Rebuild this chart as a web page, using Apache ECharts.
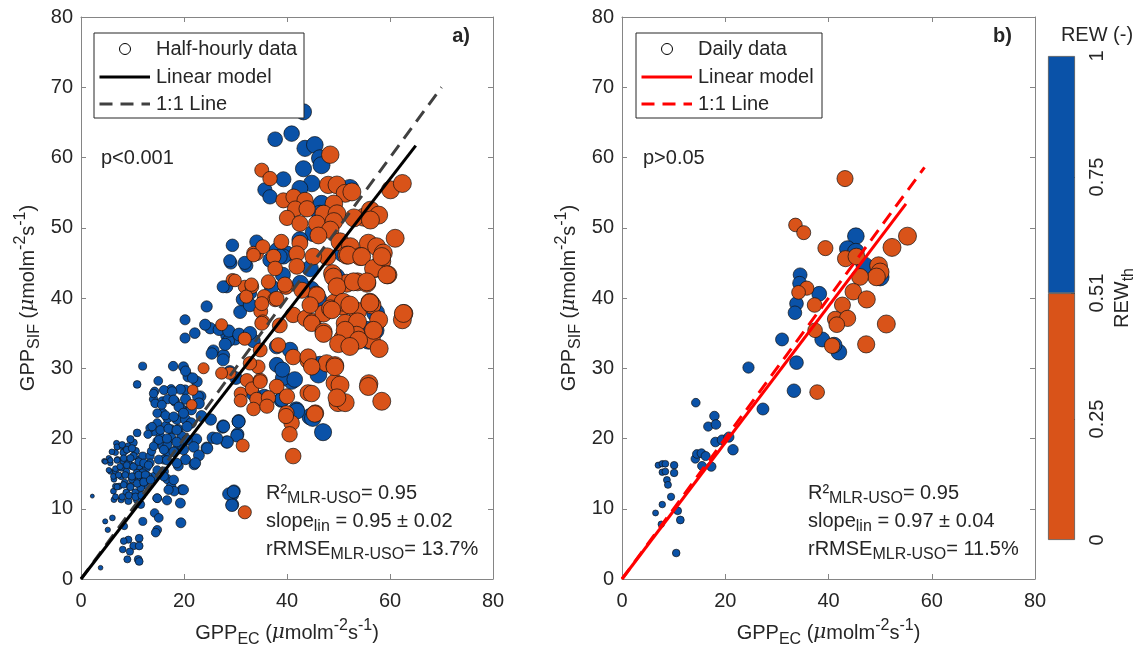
<!DOCTYPE html>
<html>
<head>
<meta charset="utf-8">
<script src="https://cdn.jsdelivr.net/npm/echarts@6/dist/echarts.min.js"></script>
<style>html,body{margin:0;padding:0;background:#fff}#c{width:1142px;height:651px}</style>
</head>
<body>
<div id="c"></div>
<script>
// ---------------- DATA ----------------
// Panel a) half-hourly data, REW >= 0.51 (blue)
const blueA = [
[43.2,66.5],[37.7,62.6],[40.9,63.4],[43.5,61.3],[45.4,61.8],[46.4,59.9],[46.7,58.9],[43.2,58.4],[39.3,56.9],[44.8,56.3],[35.7,55.4],[36.7,54.4],[42.5,55.6],[46.7,53.4],[52.2,55.6],[46.4,52],[45.1,49.2],[34.1,48],[38,46.8],[40,46.3],[36.7,45.4],[39.3,45.9],[42.5,48.3],
[29.4,47.5],[29.1,45],[32.1,44.6],[28.3,41.6],[44.7,41.2],[46.1,39.8],[57.2,37.9],[32.8,40.7],[37,41.6],[42.6,42.1],[31.4,39.8],[49.5,43],[50.9,46.4],
[28.9,45.3],[31.8,45],[38.6,45.9],[39.2,43.3],[27.6,41.6],[30.9,38],[32.8,39],[24.4,38.8],[20.2,36.9],[22.1,35],[20.2,34.3],[25.1,35.7],[28.3,34.7],[29.9,34.2],[33.5,33.9],[25.7,32.5],[27.7,31.8],[28.6,33.9],[38,30.5],[40.9,28.1],[38.9,25.5],[38,33.1],[39.2,28.6],[41.8,24.1],[30.6,22.4],[19.9,30.2],[20.8,28.8],[22.5,28.1],[20.2,26.9],[23.2,26],[27.5,21.6],[55.8,34],[57.1,35.4],[40.6,32.6],
[47,20.9],[44.5,23.1],[46.4,30.5],[44.5,44.2],[55.5,35.4],
[24.1,36.2],[26.8,35.5],[28.7,35.3],[30.7,34.8],[32.8,35],[28,33.4],[25.4,32.1],[27.6,31.2],[28.9,29.5],[30.1,28.6],[11.97,30.3],[10.9,27.7],[15,28.2],[17.9,30.3],[20.3,29.6],[21.7,28.6],[22.7,26],[19.3,27],[17.5,27],[14.3,26.7],[14.1,25.6],[15.8,25.3],[16.8,25.6],[18.2,25.3],[20.3,25.6],[23.4,23.2],[25.2,22.7],[27.6,21.8],[30.6,22.5],[30.4,20.6],[28.3,19.5],[25.6,20.1],[24.4,18.7],[22.4,19.9],[39.1,25.6],[41.9,23.9],[45,22.9],[35.6,26],[33.5,26.3],[39.1,29.8],[41.5,28.4],[46.1,29.1],[29.4,12],[29.7,12.5],[29.4,10.6],[18.9,16.1],[20.3,17],[22,16.3],[19.6,12.7],[19.3,10.8],[19.4,8],[16.1,15.3],[16.8,14.2],[17.5,13.2],[18.1,12.5],[14.8,11.5],[14.3,9.4],[15.1,8.7],[14.8,7],[14.5,6.6],[11.6,10.6],[12,8.2],[11.3,5.8],[9.2,5.6],[10.2,4.7],[11.3,4.7],[9.5,3.9],[9,2.8],[11.1,2.8],[11.3,2.5],[8.3,5.4],[8.1,4.2],[8.4,7.5],[6.1,8.7],[4.7,8.2],[5.2,7],[2.2,11.8],[3.8,1.6],[6.3,12.5],[6.7,13.2],
[4.5,16.8],[5.4,17.2],[6.7,18],[6.9,19.3],[7.8,18.9],[8.5,18.2],[9.2,18.9],[10.2,19.4],[10.6,18.2],[11.3,17],[12,17.5],[12.7,15.8],[13.4,17.5],[13.7,18.2],[14.8,19.6],[15.8,18.9],[16.8,18],[16.1,17],[14.2,14.6],[13,13.2],[10.9,15.1],[9.9,16.1],[8.8,15.3],[7.8,14.6],[6.4,14.2],[5.7,15.3],[7.4,13.2],[8.8,12.3],[9.5,13.2],[10.6,12.3],[11.6,13],[7.8,11.3],[9.2,11.1],[10.9,11.3],[6.4,11.3],[7.1,17],[8.2,16.8],[9.2,16.5],[10.2,17.5],[11.3,16.1],[12,15.1],[13,14.6],[8.5,13.7],[9.9,14.2],[11.3,14.2],[12.3,13.9],[7.8,15.8],[5.7,16.5],[6.7,15.3],[8.2,18],[9.6,19.9],[13.4,16.5],[15.1,17],[14.1,18.9],[15.4,20.3],[14.1,21],[14.8,22.2],[16.5,21.8],[17.5,21.3],[18.6,22.7],[16.8,22.9],[15.8,23.7],[13.4,21.5],[13,20.6],[17.5,20.1],[18.9,21.3],[19.6,20.3],[10.9,20.8],[16.8,19.1],[18.6,18.4],[19.6,18.9],[20.3,22.7],[20,23.9],[21.4,22.2],[21.4,24.1],[19.3,24.4],
[6,18.1],[7,18.8],[8,19.1],[8.9,18.4],[9.9,18.6],[5.7,16.9],[7,16.9],[8.3,17.2],[9.6,17.2],[4.7,16.7],[5.4,15.5],[6.7,15.7],[7.6,16],[8.9,16.2],[10.2,16],[11.2,16.7],[12.2,16.5],[13.1,16.2],[6.3,14.6],[7.3,14.8],[8.6,14.8],[9.9,14.6],[11.2,14.8],[12.5,14.8],[7,13.1],[8.3,13.4],[9.6,13.1],[10.9,13.6],[12.2,13.8],[13.5,14.1],[8,11.7],[9.3,11.9],[10.6,11.7],[11.8,11.9],[6.7,11.7],
[14.1,26.4],[16.1,26.9],[17.7,26.7],[14.4,25],[15.7,24.8],[18,25.5],[19,24.5],[14.8,23.6],[16.4,23.3],[18,23.1],[19.9,23.6],[13.8,21.7],[15.4,21.2],[17,21.4],[18.6,21.2],[20.6,21.7],[15.1,19.8],[16.7,20],[18.6,19.5],[20.6,19.8],[21.9,18.8],[16.1,18.4],[18,18.1],[19.9,18.4],[16.7,16.9],[18.6,16.5],[14.8,15.5],[16.1,14.6],[18,14.1],[19.9,12.7],[17,12.7],[14.8,11.5],[16.7,11.2],
[22.9,25],[27.7,21.7],[30.6,22.4],[30.3,20.4],[28.4,19.5],[26.4,20],[24.5,18.6],[22.9,17.6],[22.2,16.5],[28.7,12.1],[29.6,12.4],[29.3,10.5]
];
// Panel a) half-hourly data, REW < 0.51 (orange)
const orangeA = [
[48.4,60.4],[35.1,58.2],[36.7,57],[48,56.1],[49.7,56.1],[51.3,54.9],[52.6,55.1],[39.3,53.9],[41.3,54.4],[43.5,53.9],[41.6,52.7],[43.9,52.7],[49.1,53.4],[47.1,52],[49.7,52],[54.9,51.5],[56.2,52.5],[57.8,51.8],[60.1,55.4],[62.4,56.3],[40,51.4],[42.5,50.6],[45.8,50.6],[49.1,50.9],[48.4,49.7],[53,51.4],[56.2,51.1],[38.9,48],[42.5,47.8],[46.1,48.9],[50.3,48],[52.3,47.3],[55.8,47.8],[57.4,47.3],[58.7,46.4],[61,48.5],[34.1,46.3],[37.4,45.9],[41.9,46.3],[47.8,45.9],[51.6,46.1],[54.2,45.9],[58.4,45.2],
[29.4,42.6],[31.8,41.6],[33.2,41.6],[32.1,40.2],[35.6,40.2],[37.7,39.8],[39.8,41.6],[45.7,40.5],[49.2,39.3],[50.9,38.8],[53.7,38.1],[56.5,39],[34.9,38.1],[41.2,37.6],[43.6,37.1],[45,36.6],[47.1,37.8],[62.7,37.8],[62.4,36.9],[27.3,36.2],[35.3,36.6],[51.3,36.4],[53.7,36.6],[59.6,43.3],[57.2,44.2],[53.7,42.3],[55.5,42.1],[48.8,43.5],[51.6,42.1],[33.5,46.4],[35.3,47.3],
[33.5,46.1],[37.7,44.2],[41.9,44.5],[45.1,45.9],[49,43],[51.9,46.1],[54.5,45.9],[56.8,44.2],[29.9,42.5],[33.1,41.9],[36.4,42.3],[39.6,41.9],[42.9,41.1],[45.8,40.4],[49.7,41.6],[52.9,42.3],[55.5,42.3],[38,39.9],[35.1,39.2],[44.5,39],[48.4,38.5],[50.9,39.4],[56.1,39.4],[35.1,36.4],[38.6,36.1],[44.8,36.4],[47.1,35.2],[50.9,34.3],[53.5,34.7],[56.4,34],[31.8,34.2],[34.8,32.6],[38.3,33.3],[41.2,31.6],[44.1,31.1],[47.7,30.7],[49.3,30.4],[34.4,30.2],[32.8,30.7],[28.9,29.3],[32.2,28.3],[34.8,28.3],[38,27.4],[40,26],[44.1,26.5],[49.3,27.9],[49.9,25.1],[55.9,27.8],[31,26.4],[33.2,27.1],[34.1,25.6],[36.4,25.8],[39.9,23.6],[40.9,22.2],[45.5,23.6],[27.3,29.3],[21.5,24.8],[23.8,30],
[58.4,45.9],[59.4,43.3],[48.7,38.3],[52.2,39],[56.1,39.3],[62.6,37.8],[57.8,36.9],[47.1,34.9],[51.3,35.4],[53.9,34],[56.8,35.4],[50,33.5],[52.2,33.1],[57.9,32.8],[44.1,31.6],[44.8,30.2],[49.3,30.2],[50.3,27.6],[55.8,27.4],[58.4,25.3],[51.3,25.1],[49.7,25.8],[44.8,26.4],[45.4,23.5],
[21.7,26.9],[31.4,19],[31.8,9.5],[40.5,20.6],[41.2,17.5],[39.8,23.2],[31,25.4],[33.5,24.2],[36.1,24.6],[34.8,28.1]
];
// Panel b) daily data
const blueB = [
[45.3,48.8],[43.7,47],[45.3,46.6],[47,44.6],[34.5,43.3],[34.4,42.1],[38.2,40.6],[33.8,39.2],[33.5,37.9],[50,43],[31,34.1],[33.8,30.8],[33.3,26.8],[38.8,34.1],[42,32.3],[41.1,33.3],[24.5,30.1],[27.3,24.2],[14.3,25.1],[17.9,23.2],[16.7,21.7],[18.2,22],[18.1,19.5],[19.4,19.8],[20.7,20.2],[21.5,18.4],[14.2,17.1],[14.5,17.8],[15.4,17.9],[16.2,17.5],[15.5,16.1],[17.3,16],[7,16.2],[7.8,16.4],[8.4,16.4],[10.1,16.2],[10.1,15.1],[7.8,15.2],[8.4,15.3],[8.7,14.1],[8.9,13.4],[9.5,11.7],[7.8,10.6],[6.5,9.4],[7.6,7.8],[10.8,9.7],[11.3,8.4],[10.5,3.7]
];
const orangeB = [
[43.2,57],[33.6,50.4],[35.2,49.3],[39.4,47.1],[55.3,48.8],[52.3,47.2],[43.3,45.6],[45.4,45.9],[49.7,44.6],[50,43.7],[49.3,43],[46.1,43],[35.8,41.4],[34.2,40.8],[37.3,39],[44.8,40.9],[42.7,39],[47.4,39.8],[41.3,37],[43.7,37.1],[41.6,36.2],[51.2,36.3],[37.4,35.4],[40.7,33.2],[47.3,33.4],[37.8,26.6]
];
// Fitted lines (end points)
const fitA = [[0,0],[65,61.7]];
const oneA = [[0,0],[70,70]];
const fitB = [[0,0],[55,53.4]];
const oneB = [[0,0],[58.6,58.6]];
// Colour bar
const cbEdges = [0, 0.51, 1];
const cbTicks = [0, 0.25, 0.51, 0.75, 1];
const cbMinorTicks = [0.25, 0.51, 0.75];
const axisMax = 80, axisStep = 20;

// ---------------- STYLE ----------------
const FONT = '"Liberation Sans", Arial, sans-serif';
const FS = 20, FSS = 16;
const TXT = '#262626';
const AX = '#858585';
const BLUE = '#0a52a8';
const ORANGE = '#d95319';

const RICH = {
  sub: {fontSize: FSS, lineHeight: 12, verticalAlign: 'bottom', fontFamily: FONT, color: TXT, fill: TXT},
  sup: {fontSize: FSS, lineHeight: 14, verticalAlign: 'top', fontFamily: FONT, color: TXT, fill: TXT},
  mu: {fontSize: FS, fontStyle: 'italic', fontFamily: '"DejaVu Serif", serif', color: TXT, fill: TXT}
};

function nameStyle() {
  return {fontSize: FS, lineHeight: 30, fontFamily: FONT, color: TXT, rich: RICH};
}
function xAx(grid, pos, withName) {
  return {
    gridIndex: grid, type: 'value', min: 0, max: axisMax, interval: axisStep, position: pos,
    axisLine: {show: true, onZero: false, lineStyle: {color: AX, width: 1}},
    axisTick: {show: true, inside: true, length: 5, lineStyle: {color: AX}},
    axisLabel: {show: pos === 'bottom', fontSize: FS, color: TXT, fontFamily: FONT, margin: 12},
    splitLine: {show: false},
    name: withName ? 'GPP{sub|EC} ({mu|μ}molm{sup|-2}s{sup|-1})' : '',
    nameLocation: 'middle', nameGap: 39, nameTextStyle: nameStyle(), nameMoveOverlap: false
  };
}
function yAx(grid, pos, withName) {
  return {
    gridIndex: grid, type: 'value', min: 0, max: axisMax, interval: 10, position: pos,
    axisLine: {show: true, onZero: false, lineStyle: {color: AX, width: 1}},
    axisTick: {show: true, inside: true, length: 5, lineStyle: {color: AX}},
    axisLabel: {show: pos === 'left', fontSize: FS, color: TXT, fontFamily: FONT, margin: 8},
    splitLine: {show: false},
    name: withName ? 'GPP{sub|SIF} ({mu|μ}molm{sup|-2}s{sup|-1})' : '',
    nameLocation: 'middle', nameRotate: 90, nameGap: 38, nameTextStyle: nameStyle(), nameMoveOverlap: false
  };
}
// marker size grows with GPP_EC (style mapping)
const sizeFn = v => {
  const x = v[0];
  const s = x < 10 ? 3 + 0.45 * x : 7.5 + 0.26 * (x - 10);
  return Math.min(18, Math.max(3.5, s));
};
function scat(data, color, xi, yi) {
  return {type: 'scatter', data: data, xAxisIndex: xi, yAxisIndex: yi, symbol: 'circle', symbolSize: sizeFn,
    itemStyle: {color: color, borderColor: '#111', borderWidth: 0.7, opacity: 1}, z: 2, silent: true};
}
function line(data, color, xi, yi, dashed) {
  return {type: 'line', data: data, xAxisIndex: xi, yAxisIndex: yi, symbol: 'none', showSymbol: false,
    lineStyle: {color: color, width: 3, type: dashed ? [13, 8] : 'solid'}, z: dashed ? 3 : 4, silent: true};
}
function txt(x, y, text, opts) {
  return {type: 'text', x: x, y: y, z: 100, silent: true,
    style: Object.assign({text: text, fontSize: FS, fontFamily: FONT, fill: TXT,
      align: 'left', verticalAlign: 'middle', textAlign: 'left', textVerticalAlign: 'middle'}, opts || {})};
}
function legend(x0, y0, w, lineColor, dashColor, label) {
  const rows = [y0 + 16, y0 + 44, y0 + 71];
  return [
    {type: 'rect', shape: {x: x0, y: y0, width: w, height: 85}, style: {fill: '#fff', stroke: TXT, lineWidth: 1}, z: 90, silent: true},
    {type: 'circle', shape: {cx: x0 + 31, cy: rows[0], r: 5.5}, style: {fill: 'none', stroke: '#000', lineWidth: 1}, z: 95, silent: true},
    {type: 'line', shape: {x1: x0 + 5.5, y1: rows[1], x2: x0 + 56, y2: rows[1]}, style: {stroke: lineColor, lineWidth: 3}, z: 95, silent: true},
    {type: 'line', shape: {x1: x0 + 5.5, y1: rows[2], x2: x0 + 56, y2: rows[2]}, style: {stroke: dashColor, lineWidth: 3, lineDash: [13, 8]}, z: 95, silent: true},
    txt(x0 + 62, rows[0], label),
    txt(x0 + 62, rows[1], 'Linear model'),
    txt(x0 + 62, rows[2], '1:1 Line')
  ];
}
const annRich = {sub: {fontSize: FSS, lineHeight: 12, verticalAlign: 'bottom', fontFamily: FONT, fill: TXT, color: TXT}};

const option = {
  animation: false,
  backgroundColor: '#fff',
  grid: [
    {left: 81, top: 17, width: 412, height: 562, outerBoundsMode: 'none', containLabel: false},
    {left: 622, top: 17, width: 413, height: 562, outerBoundsMode: 'none', containLabel: false},
    {left: 1048, top: 56, width: 27, height: 484, outerBoundsMode: 'none', containLabel: false}
  ],
  xAxis: [
    xAx(0, 'bottom', true), xAx(0, 'top', false),
    xAx(1, 'bottom', true), xAx(1, 'top', false),
    {gridIndex: 2, type: 'category', data: ['REW'], show: false}
  ],
  yAxis: [
    yAx(0, 'left', true), yAx(0, 'right', false),
    yAx(1, 'left', true), yAx(1, 'right', false),
    {gridIndex: 2, type: 'value', min: 0, max: 1, position: 'right',
      axisLine: {show: false},
      axisTick: {show: true, inside: true, length: 4, customValues: cbMinorTicks, lineStyle: {color: '#333'}},
      axisLabel: {show: true, rotate: 90, customValues: cbTicks, formatter: v => String(v), fontSize: FS, color: TXT, fontFamily: FONT, margin: 12},
      splitLine: {show: false},
      name: 'REW{sub|th}', nameLocation: 'middle', nameRotate: 90, nameGap: 32, nameMoveOverlap: false,
      nameTextStyle: {fontSize: FS, lineHeight: 30, fontFamily: FONT, color: TXT, rich: RICH}}
  ],
  series: [
    scat(blueA, BLUE, 0, 0), scat(orangeA, ORANGE, 0, 0),
    line(oneA, '#404040', 0, 0, true), line(fitA, '#000', 0, 0, false),
    scat(blueB, BLUE, 2, 2), scat(orangeB, ORANGE, 2, 2),
    line(oneB, '#ff0000', 2, 2, true), line(fitB, '#ff0000', 2, 2, false),
    {type: 'bar', xAxisIndex: 4, yAxisIndex: 4, stack: 'cb', barWidth: '100%', silent: true,
      data: [cbEdges[1] - cbEdges[0]], itemStyle: {color: ORANGE, borderColor: '#555', borderWidth: 0.8}},
    {type: 'bar', xAxisIndex: 4, yAxisIndex: 4, stack: 'cb', barWidth: '100%', silent: true,
      data: [cbEdges[2] - cbEdges[1]], itemStyle: {color: BLUE, borderColor: '#555', borderWidth: 0.8}}
  ],
  graphic: [].concat(
    legend(94, 33, 210, '#000', '#404040', 'Half-hourly data'),
    legend(636, 33, 186, '#ff0000', '#ff0000', 'Daily data'),
    [
      txt(101, 158, 'p<0.001'),
      txt(643, 158, 'p>0.05'),
      txt(470, 36, 'a)', {fontWeight: 'bold', align: 'right', textAlign: 'right'}),
      txt(1012, 36, 'b)', {fontWeight: 'bold', align: 'right', textAlign: 'right'}),
      txt(1097, 35, 'REW (-)', {align: 'center', textAlign: 'center'}),
      txt(266, 479, 'R²{sub|MLR-USO}= 0.95\nslope{sub|lin} = 0.95 ± 0.02\nrRMSE{sub|MLR-USO}= 13.7%',
        {lineHeight: 28, verticalAlign: 'top', textVerticalAlign: 'top', rich: annRich}),
      txt(808, 479, 'R²{sub|MLR-USO}= 0.95\nslope{sub|lin} = 0.97 ± 0.04\nrRMSE{sub|MLR-USO}= 11.5%',
        {lineHeight: 28, verticalAlign: 'top', textVerticalAlign: 'top', rich: annRich})
    ]
  )
};
const chart = echarts.init(document.getElementById('c'), null, {renderer: 'canvas'});
chart.setOption(option);
</script>
</body>
</html>
